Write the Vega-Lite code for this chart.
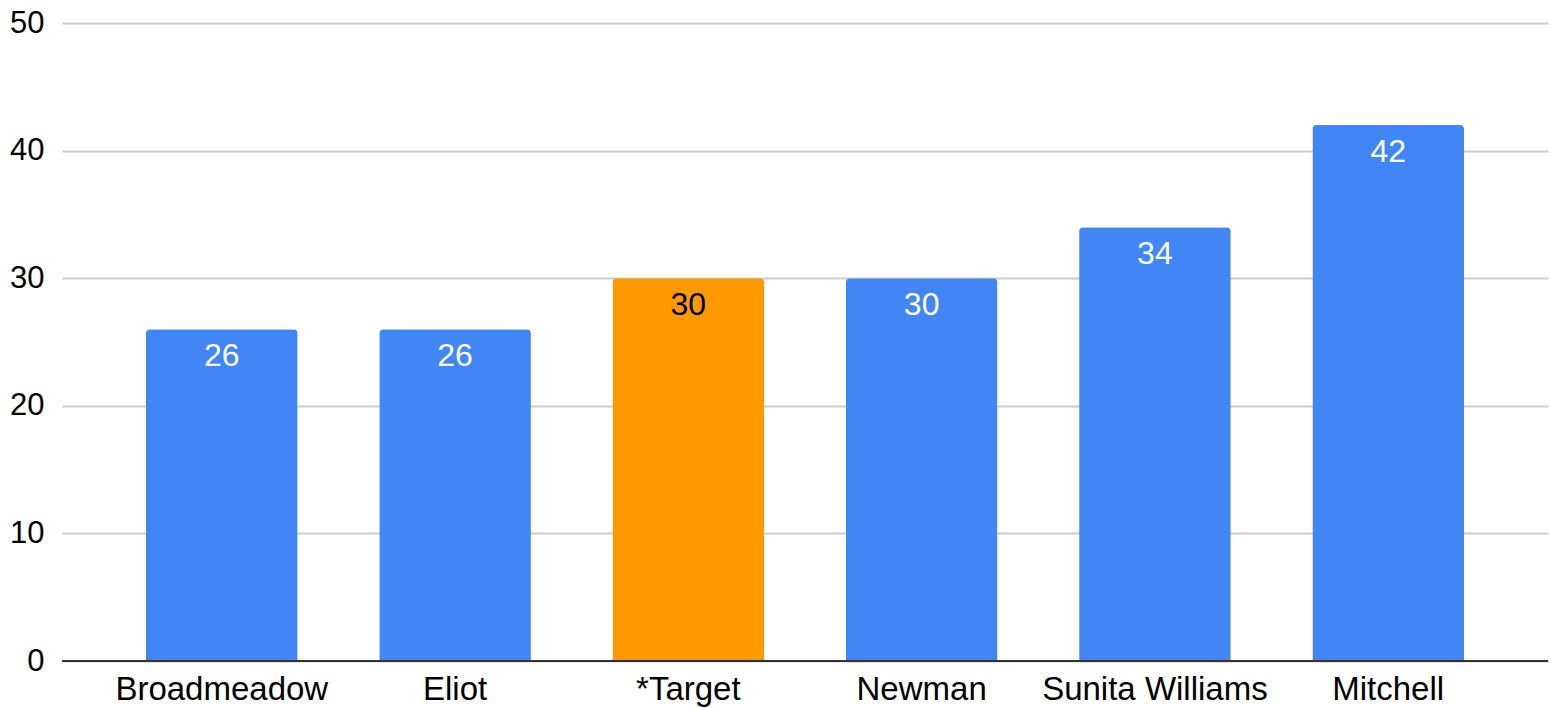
{
  "$schema": "https://vega.github.io/schema/vega-lite/v6.json",
  "autosize": {"type": "none"},
  "width": 1486,
  "height": 638,
  "padding": {"left": 62, "top": 23, "right": 2, "bottom": 47},
  "background": "white",
  "config": {
    "view": {"stroke": null},
    "font": "Liberation Sans"
  },
  "data": {
    "values": [
      {"name": "Broadmeadow", "value": 26, "kind": "School"},
      {"name": "Eliot", "value": 26, "kind": "School"},
      {"name": "*Target", "value": 30, "kind": "Target"},
      {"name": "Newman", "value": 30, "kind": "School"},
      {"name": "Sunita Williams", "value": 34, "kind": "School"},
      {"name": "Mitchell", "value": 42, "kind": "School"}
    ]
  },
  "encoding": {
    "x": {
      "field": "name",
      "type": "nominal",
      "sort": null,
      "scale": {"paddingInner": 0.35, "paddingOuter": 0.36},
      "axis": {
        "title": null,
        "labelAngle": 0,
        "labelFontSize": 33,
        "labelColor": "#000000",
        "labelFont": "Liberation Sans",
        "labelPadding": 12,
        "labelLimit": 0,
        "ticks": false,
        "domain": false,
        "grid": false
      }
    },
    "y": {
      "field": "value",
      "type": "quantitative",
      "scale": {"domain": [0, 50]},
      "axis": {
        "title": null,
        "values": [0, 10, 20, 30, 40, 50],
        "labelFontSize": 31,
        "labelColor": "#000000",
        "labelFont": "Liberation Sans",
        "labelPadding": 18,
        "ticks": false,
        "domain": false,
        "grid": true,
        "gridColor": "#cccccc",
        "gridWidth": 2
      }
    }
  },
  "layer": [
    {
      "mark": {"type": "bar", "cornerRadiusTopLeft": 4, "cornerRadiusTopRight": 4},
      "encoding": {
        "color": {
          "field": "kind",
          "type": "nominal",
          "scale": {"domain": ["School", "Target"], "range": ["#4285F4", "#FF9900"]},
          "legend": null
        }
      }
    },
    {
      "mark": {"type": "rule", "color": "#333333", "strokeWidth": 2},
      "encoding": {
        "x": {"value": 0},
        "x2": {"value": 1486},
        "y": {"datum": 0}
      }
    },
    {
      "mark": {"type": "text", "baseline": "middle", "align": "center", "dy": 27, "fontSize": 32, "font": "Liberation Sans"},
      "encoding": {
        "text": {"field": "value", "type": "quantitative"},
        "color": {
          "field": "kind",
          "type": "nominal",
          "scale": {"domain": ["School", "Target"], "range": ["#ffffff", "#000000"]},
          "legend": null
        }
      }
    }
  ],
  "resolve": {"scale": {"color": "independent"}}
}
